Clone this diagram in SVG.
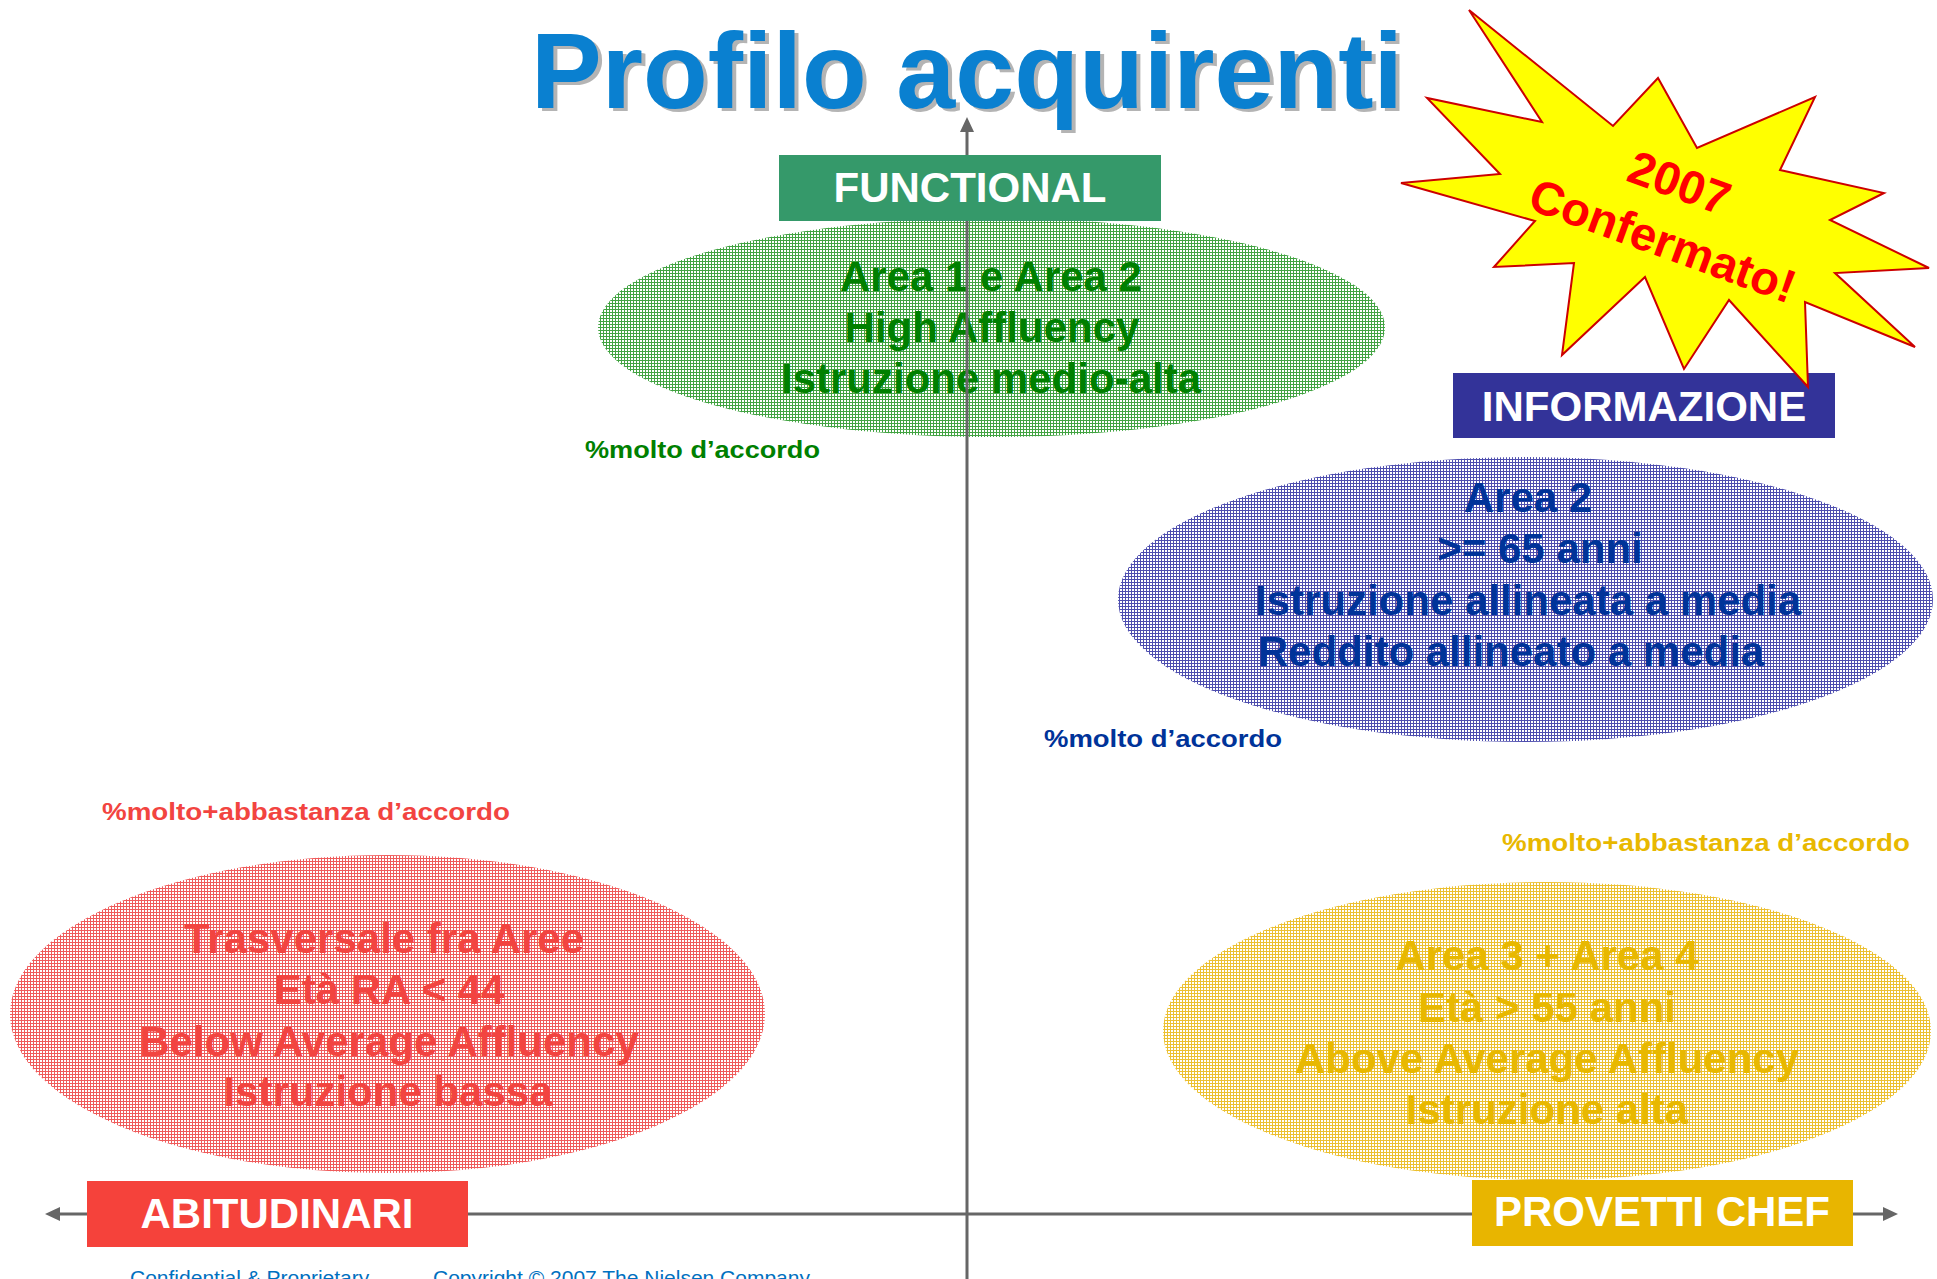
<svg xmlns="http://www.w3.org/2000/svg" width="1937" height="1279" viewBox="0 0 1937 1279">
<style>
  .big{font-family:"Liberation Sans",Arial,sans-serif;font-weight:bold;font-size:42px;text-anchor:middle}
  .box{font-family:"Liberation Sans",Arial,sans-serif;font-weight:bold;font-size:42px;text-anchor:middle;fill:#fff}
  .lbl{font-family:"Liberation Sans",Arial,sans-serif;font-weight:bold;font-size:24px}
  .foot{font-family:"Liberation Sans",Arial,sans-serif;font-size:21px;fill:#0070C0}
  .axis{stroke:#666;stroke-width:3;fill:none}
</style>
<defs>
  <pattern id="pg" width="3" height="3" patternUnits="userSpaceOnUse"><rect width="3" height="3" fill="#fff"/><path d="M0 .5H3M.5 0V3" stroke="#42A342" stroke-width="1"/></pattern>
  <pattern id="pb" width="3" height="3" patternUnits="userSpaceOnUse"><rect width="3" height="3" fill="#fff"/><path d="M0 .5H3M.5 0V3" stroke="#4D4DAE" stroke-width="1"/></pattern>
  <pattern id="pr" width="3" height="3" patternUnits="userSpaceOnUse"><rect width="3" height="3" fill="#fff"/><path d="M0 .5H3M.5 0V3" stroke="#EF5B5B" stroke-width="1"/></pattern>
  <pattern id="py" width="3" height="3" patternUnits="userSpaceOnUse"><rect width="3" height="3" fill="#fff"/><path d="M0 .5H3M.5 0V3" stroke="#ECC030" stroke-width="1"/></pattern>
  <marker id="arr" viewBox="0 0 15 14" refX="7" refY="7" markerWidth="15" markerHeight="14" markerUnits="userSpaceOnUse" orient="auto"><path d="M0,0 L15,7 L0,14 z" fill="#666"/></marker>
</defs>
<rect width="1937" height="1279" fill="#fff"/>

<g id="title">
  <text x="535" y="111" font-family="'Liberation Sans',Arial,sans-serif" font-weight="bold" font-size="108" fill="#B4B4B4" textLength="872" lengthAdjust="spacingAndGlyphs">Profilo acquirenti</text>
  <text x="531" y="108" font-family="'Liberation Sans',Arial,sans-serif" font-weight="bold" font-size="108" fill="#0A80D0" textLength="872" lengthAdjust="spacingAndGlyphs">Profilo acquirenti</text>
</g>

<g id="ellipse-functional">
  <ellipse cx="991.5" cy="327.5" rx="393.5" ry="109.5" fill="url(#pg)"/>
  <text class="big" fill="#008000" x="991" y="291">Area 1 e Area 2</text>
  <text class="big" fill="#008000" x="992" y="342">High Affluency</text>
  <text class="big" fill="#008000" x="991" y="393">Istruzione medio-alta</text>
</g>

<g id="ellipse-informazione">
  <ellipse cx="1525.5" cy="599.5" rx="407.5" ry="142.5" fill="url(#pb)"/>
  <text class="big" fill="#003399" x="1528" y="512">Area 2</text>
  <text class="big" fill="#003399" x="1540" y="563">&gt;= 65 anni</text>
  <text class="big" fill="#003399" x="1528" y="615">Istruzione allineata a media</text>
  <text class="big" fill="#003399" x="1511" y="666">Reddito allineato a media</text>
</g>

<g id="ellipse-abitudinari">
  <ellipse cx="387.5" cy="1014" rx="377.5" ry="159" fill="url(#pr)"/>
  <text class="big" fill="#F24440" x="384" y="953">Trasversale fra Aree</text>
  <text class="big" fill="#F24440" x="389" y="1004">Età RA &lt; 44</text>
  <text class="big" fill="#F24440" x="389" y="1056">Below Average Affluency</text>
  <text class="big" fill="#F24440" x="388" y="1106">Istruzione bassa</text>
</g>

<g id="ellipse-provetti">
  <ellipse cx="1547" cy="1031" rx="384" ry="149" fill="url(#py)"/>
  <text class="big" fill="#E8B800" x="1547" y="970">Area 3 + Area 4</text>
  <text class="big" fill="#E8B800" x="1547" y="1022">Età &gt; 55 anni</text>
  <text class="big" fill="#E8B800" x="1547" y="1073">Above Average Affluency</text>
  <text class="big" fill="#E8B800" x="1547" y="1124">Istruzione alta</text>
</g>

<g id="labels">
  <text class="lbl" fill="#008000" x="585" y="458" textLength="235" lengthAdjust="spacingAndGlyphs">%molto d’accordo</text>
  <text class="lbl" fill="#003399" x="1044" y="747" textLength="238" lengthAdjust="spacingAndGlyphs">%molto d’accordo</text>
  <text class="lbl" fill="#F24440" x="102" y="820" textLength="408" lengthAdjust="spacingAndGlyphs">%molto+abbastanza d’accordo</text>
  <text class="lbl" fill="#E8B800" x="1502" y="851" textLength="408" lengthAdjust="spacingAndGlyphs">%molto+abbastanza d’accordo</text>
</g>

<g id="connectors">
  <line class="axis" x1="967" y1="1279" x2="967" y2="125" marker-end="url(#arr)"/>
  <line class="axis" x1="967" y1="1214" x2="53" y2="1214" marker-end="url(#arr)"/>
  <line class="axis" x1="967" y1="1214" x2="1890" y2="1214" marker-end="url(#arr)"/>
</g>

<g id="functional">
  <rect x="779" y="155" width="382" height="66" fill="#35996A"/>
  <text class="box" x="970" y="202">FUNCTIONAL</text>
</g>

<g id="informazione">
  <rect x="1453" y="373" width="382" height="65" fill="#333399"/>
  <text class="box" x="1644" y="421">INFORMAZIONE</text>
</g>

<g id="abitudinari">
  <rect x="87" y="1181" width="381" height="66" fill="#F5423B"/>
  <text class="box" x="277" y="1228">ABITUDINARI</text>
</g>

<g id="provetti">
  <rect x="1472" y="1180" width="381" height="66" fill="#E8B500"/>
  <text class="box" x="1662" y="1226">PROVETTI CHEF</text>
</g>

<g id="starburst">
  <polygon points="1469,10 1613,126 1658,78 1697,148 1815,97 1780,170 1884,193 1830,220 1929,268 1835,273 1915,347 1805,302 1808,387 1729,300 1684,369 1645,277 1562,355 1574,263 1494,267 1535,221 1401,183 1500,174 1427,98 1542,122" fill="#FFFF00" stroke="#CC0000" stroke-width="2" stroke-linejoin="miter"/>
  <g transform="translate(1663,240) rotate(20)" font-family="'Liberation Sans',Arial,sans-serif" font-weight="bold" font-size="47" fill="#FF0000" text-anchor="middle">
    <text x="-4" y="-43">2007</text>
    <text x="0" y="17">Confermato!</text>
  </g>
</g>

<g id="footer">
  <text class="foot" x="130" y="1285">Confidential &amp; Proprietary</text>
  <text class="foot" x="433" y="1285">Copyright © 2007 The Nielsen Company</text>
</g>
</svg>
